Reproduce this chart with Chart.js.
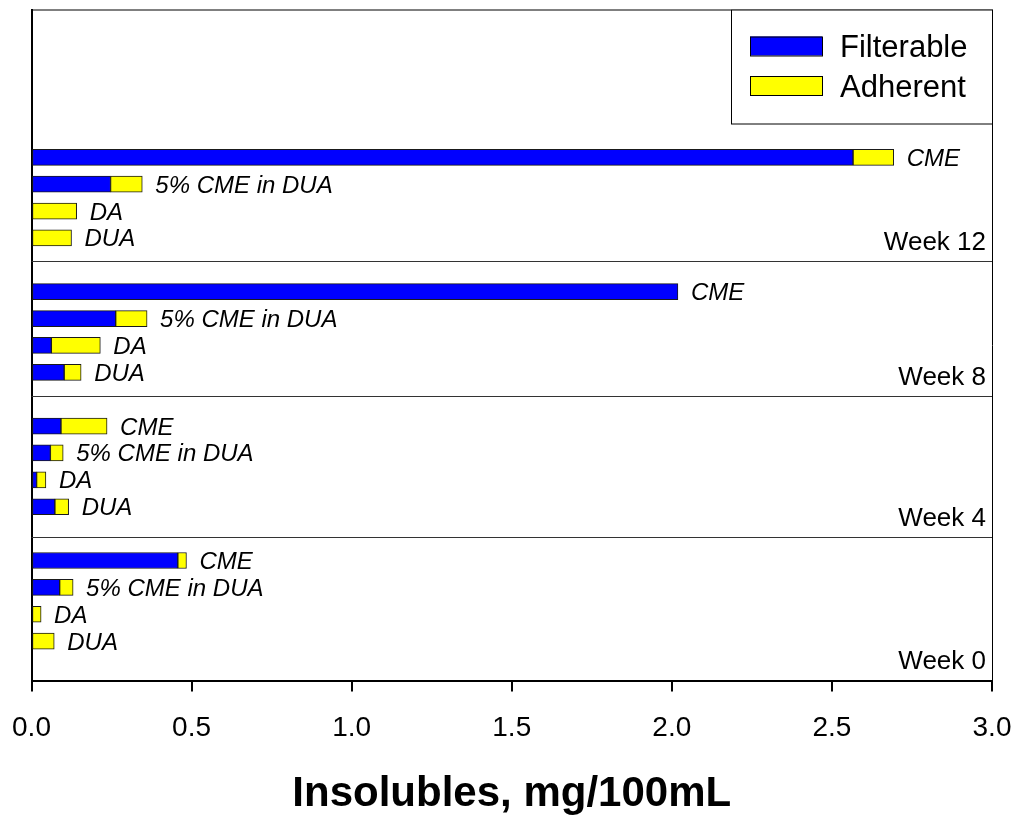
<!DOCTYPE html>
<html>
<head>
<meta charset="utf-8">
<script src="https://cdn.jsdelivr.net/npm/chart.js"></script>
<style>
  body { margin: 0; background: #fff; }
  #wrap { width: 1018px; height: 815px; }
</style>
</head>
<body>
<div id="wrap"><canvas id="myChart"></canvas></div>
<script>
// groups, top to bottom as drawn
var weeks = ['Week 12', 'Week 8', 'Week 4', 'Week 0'];
var samples = ['CME', '5% CME in DUA', 'DA', 'DUA'];

// mg/100mL, in the order of samples
var filterableWk12 = [2.566, 0.247, 0, 0];
var adherentWk12 = [0.127, 0.099, 0.141, 0.125];
var filterableWk8 = [2.019, 0.263, 0.062, 0.102];
var adherentWk8 = [0, 0.098, 0.153, 0.053];
var filterableWk4 = [0.092, 0.059, 0.016, 0.073];
var adherentWk4 = [0.144, 0.040, 0.029, 0.043];
var filterableWk0 = [0.457, 0.088, 0, 0];
var adherentWk0 = [0.027, 0.042, 0.030, 0.071];

var xTicks = [0, 0.5, 1.0, 1.5, 2.0, 2.5, 3.0];

var FONT = '"Liberation Sans", Arial, Helvetica, sans-serif';

function buildRows() {
  var filt = [filterableWk12, filterableWk8, filterableWk4, filterableWk0];
  var adh = [adherentWk12, adherentWk8, adherentWk4, adherentWk0];
  var labels = [], names = [], f = [], a = [];
  // empty rows above the first group leave room for the legend
  for (var k = 0; k < 5; k++) {
    labels.push('top' + k); names.push(''); f.push(null); a.push(null);
  }
  for (var g = 0; g < weeks.length; g++) {
    for (var s = 0; s < samples.length; s++) {
      labels.push(weeks[g] + ' ' + samples[s]);
      names.push(samples[s]);
      f.push(filt[g][s]);
      a.push(adh[g][s]);
    }
    labels.push('gap' + g); names.push(''); f.push(null); a.push(null);
  }
  return { labels: labels, names: names, filterable: f, adherent: a };
}

var rows = buildRows();

var decorPlugin = {
  id: 'decor',
  afterDatasetsDraw: function(chart, args, opts) {
    var ctx = chart.ctx;
    var area = chart.chartArea;
    var yScale = chart.scales.y;
    ctx.save();

    // frame top / right
    ctx.strokeStyle = '#000';
    ctx.lineWidth = 1;
    ctx.beginPath();
    ctx.moveTo(area.left, area.top + 0.5);
    ctx.lineTo(area.right + 0.5, area.top + 0.5);
    ctx.lineTo(area.right + 0.5, area.bottom);
    ctx.stroke();

    // group separators and week labels
    ctx.strokeStyle = '#333';
    ctx.lineWidth = 1.2;
    ctx.fillStyle = '#000';
    ctx.font = '26px ' + FONT;
    ctx.textAlign = 'right';
    ctx.textBaseline = 'alphabetic';
    for (var g = 0; g < weeks.length; g++) {
      var yy;
      if (g < opts.breaks.length) {
        yy = Math.round(yScale.getPixelForValue(opts.breaks[g])) + 0.5;
        ctx.beginPath();
        ctx.moveTo(area.left, yy);
        ctx.lineTo(area.right, yy);
        ctx.stroke();
      } else {
        yy = area.bottom;
      }
      ctx.fillText(weeks[g], area.right - 6, yy - 12);
    }

    // sample names at the end of each bar
    var m0 = chart.getDatasetMeta(0), m1 = chart.getDatasetMeta(1);
    ctx.font = 'italic 24px ' + FONT;
    ctx.textAlign = 'left';
    for (var i = 0; i < rows.names.length; i++) {
      if (!rows.names[i]) continue;
      var end = Math.max(m0.data[i].x, m1.data[i].x);
      ctx.fillText(rows.names[i], end + 13, m1.data[i].y + 8.5);
    }

    // legend box
    var lx = 731, ly = area.top, lw = area.right - 731, lh = 114;
    ctx.fillStyle = '#fff';
    ctx.fillRect(lx, ly, lw, lh);
    ctx.strokeStyle = '#000';
    ctx.lineWidth = 1;
    ctx.strokeRect(lx + 0.5, ly + 0.5, lw, lh);
    ctx.font = '31px ' + FONT;
    chart.data.datasets.forEach(function(ds, j) {
      var sy = ly + 27 + j * 39.5;
      ctx.fillStyle = ds.backgroundColor;
      ctx.fillRect(lx + 19, sy, 72, 19);
      ctx.strokeStyle = '#000';
      ctx.strokeRect(lx + 19.5, sy + 0.5, 72, 19);
      ctx.fillStyle = '#000';
      ctx.fillText(ds.label, lx + 109, sy + 20.5);
    });
    ctx.restore();
  }
};

var myChart = new Chart(document.getElementById('myChart').getContext('2d'), {
  type: 'bar',
  data: {
    labels: rows.labels,
    datasets: [
      {
        label: 'Filterable',
        data: rows.filterable,
        backgroundColor: '#0000ff',
        borderColor: '#1a1a1a',
        borderWidth: 1,
        borderSkipped: false,
        barThickness: 16
      },
      {
        label: 'Adherent',
        data: rows.adherent,
        backgroundColor: '#ffff00',
        borderColor: '#1a1a1a',
        borderWidth: 1,
        borderSkipped: false,
        barThickness: 16
      }
    ]
  },
  options: {
    indexAxis: 'y',
    responsive: true,
    maintainAspectRatio: false,
    animation: false,
    layout: { padding: { left: 31.5, right: 26, top: 9.5, bottom: 0 } },
    plugins: {
      legend: { display: false },
      tooltip: { enabled: false },
      decor: { breaks: [8.84, 13.89, 19.11] }
    },
    scales: {
      x: {
        type: 'linear',
        stacked: true,
        min: 0,
        max: 3,
        afterBuildTicks: function(scale) {
          scale.ticks = xTicks.map(function(v) { return { value: v }; });
        },
        afterFit: function(scale) {
          // end labels may hang past the plot edges, like the original
          scale.paddingLeft = 0;
          scale.paddingRight = 0;
        },
        ticks: {
          padding: 20,
          color: '#000',
          font: { family: FONT, size: 28 },
          callback: function(v) { return Number(v).toFixed(1); }
        },
        grid: {
          display: true,
          drawOnChartArea: false,
          drawTicks: true,
          tickLength: 10,
          lineWidth: 2,
          color: '#000'
        },
        border: { display: true, width: 2, color: '#000' },
        title: {
          display: true,
          text: 'Insolubles, mg/100mL',
          color: '#000',
          font: { family: FONT, size: 42, weight: 'bold', lineHeight: 1.0 },
          padding: { top: 8, bottom: 0 }
        }
      },
      y: {
        type: 'category',
        stacked: true,
        offset: true,
        ticks: { display: false },
        grid: { display: false, drawTicks: false },
        border: { display: true, width: 2, color: '#000' }
      }
    }
  },
  plugins: [decorPlugin]
});
</script>
</body>
</html>
